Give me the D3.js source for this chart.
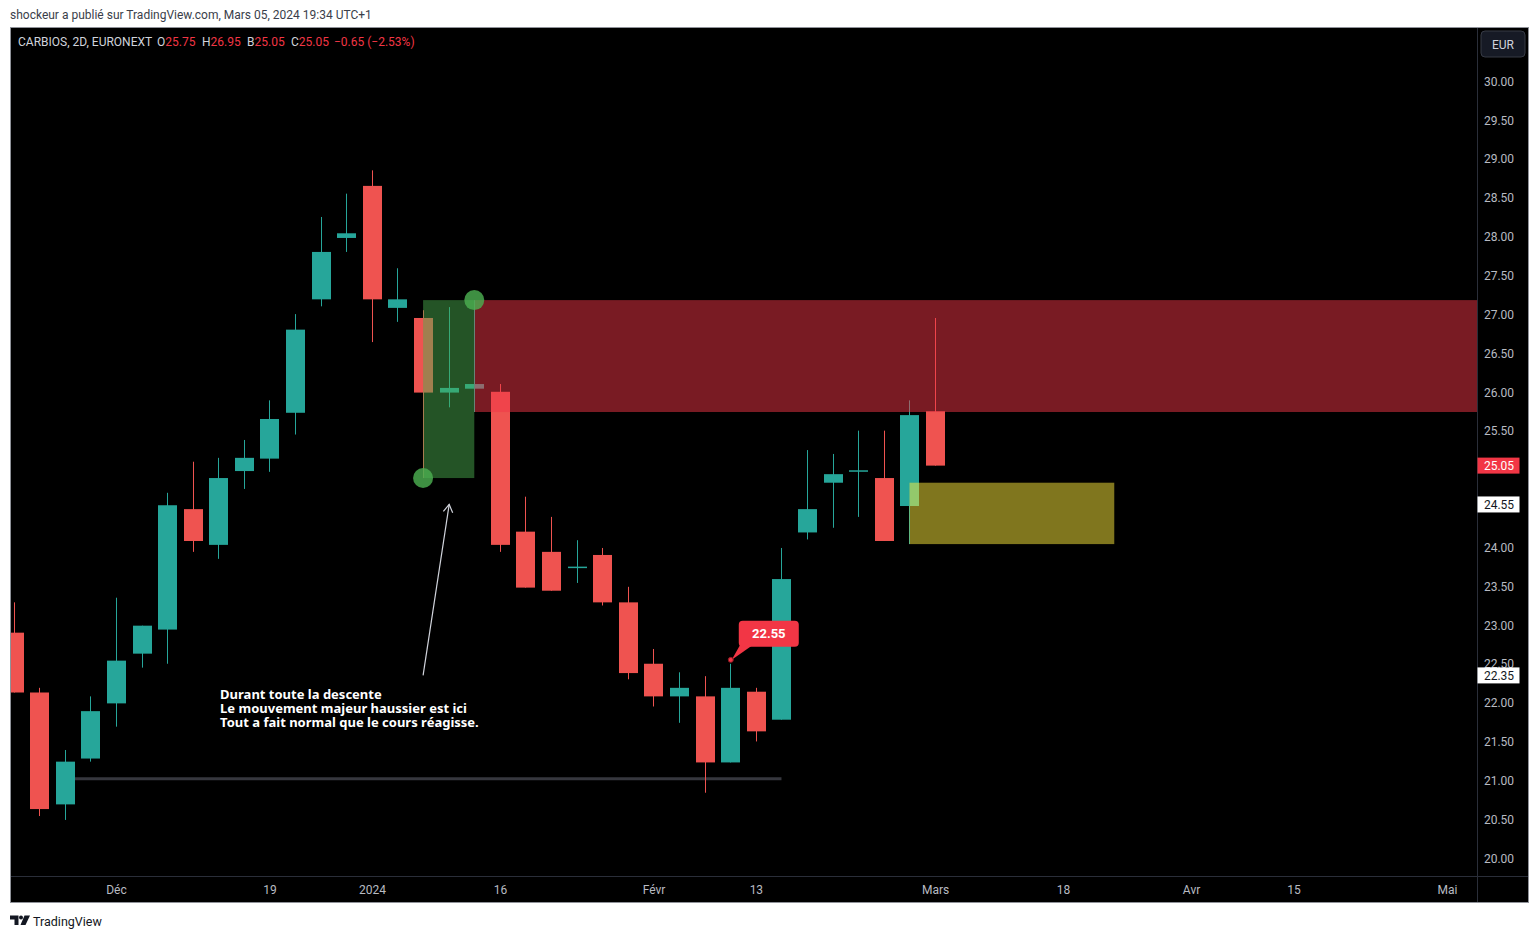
<!DOCTYPE html>
<html><head><meta charset="utf-8">
<script src="https://cdn.jsdelivr.net/npm/d3@7"></script>
<style>
html,body{margin:0;padding:0;background:#fff;}
svg{display:block;}
text{font-family:Roboto,"Noto Sans",sans-serif;}
</style></head>
<body>
<svg id="chart" width="1539" height="939"></svg>
<script>
// ---------- DATA ----------
const dates = ["2023-11-20","2023-11-22","2023-11-24","2023-11-28","2023-11-30","2023-12-04","2023-12-06","2023-12-08","2023-12-12","2023-12-14",
"2023-12-18","2023-12-20","2023-12-22","2023-12-28","2024-01-02","2024-01-04","2024-01-08","2024-01-10","2024-01-12","2024-01-16",
"2024-01-18","2024-01-22","2024-01-24","2024-01-26","2024-01-30","2024-02-01","2024-02-05","2024-02-07","2024-02-09","2024-02-13",
"2024-02-15","2024-02-19","2024-02-21","2024-02-23","2024-02-27","2024-02-29","2024-03-04"];
const opens  = [22.90,22.13,20.69,21.28,21.99,22.63,22.94,24.49,24.03,24.98,25.14,25.73,27.19,27.98,28.65,27.08,26.95,25.99,26.04,26.00,24.20,23.94,23.74,23.90,23.29,22.50,22.08,22.08,21.23,22.14,21.78,24.19,24.83,24.98,24.89,24.53,25.75];
const highs  = [23.29,22.19,21.39,22.08,23.35,22.99,24.70,25.10,25.15,25.38,25.89,27.00,28.25,28.55,28.85,27.59,27.05,27.09,27.18,26.10,24.65,24.39,24.09,23.99,23.49,22.69,22.39,22.34,22.50,22.19,23.99,25.25,25.20,25.50,25.50,25.89,26.95];
const lows   = [22.13,20.54,20.49,21.24,21.69,22.45,22.50,23.94,23.85,24.75,24.97,25.45,27.10,27.80,26.64,26.90,24.89,25.80,25.74,23.94,23.48,23.44,23.54,23.25,22.30,21.95,21.74,20.84,21.23,21.50,21.78,24.10,24.25,24.39,24.08,24.04,25.05];
const closes = [22.13,20.63,21.24,21.89,22.54,22.99,24.54,24.08,24.89,25.15,25.65,26.80,27.80,28.04,27.19,27.19,25.99,26.05,26.10,24.03,23.48,23.44,23.75,23.29,22.38,22.08,22.19,21.23,22.19,21.63,23.59,24.49,24.94,24.99,24.08,25.70,25.05];

// visible price-axis ticks (25.00 and 24.50 are hidden behind the price labels in the reference)
const priceTicks = [20,20.5,21,21.5,22,22.5,23,23.5,24,25.5,26,26.5,27,27.5,28,28.5,29,29.5,30];
const xTickBars   = [4,10,14,19,25,29,36,41,46,50,56];
const xTickLabels = ["Déc","19","2024","16","Févr","13","Mars","18","Avr","15","Mai"];

// drawings (bar index / price)
const redZoneBars = [18, 57.5];   const redZonePrices = [25.74, 27.18];
const greenBoxBars = [16, 18];    const greenBoxPrices = [24.89, 27.18];
const yellowBoxBars = [35, 43];   const yellowBoxPrices = [24.04, 24.83];
const supportBars = [2, 30];      const supportPrice = 21.02;
const arrowBars = [16, 17];       const arrowPrices = [22.35, 24.55];
const calloutBar = 28;            const calloutPrice = 22.55;
const noteBar = 8.07;             const notePrice = 22.045;
const noteLines = ["Durant toute la descente","Le mouvement majeur haussier est ici","Tout a fait normal que le cours réagisse."];
const lastPrice = 25.05;

// ---------- LAYOUT ----------
const frame = {x0:10, y0:27, x1:1529, y1:903};
const plot = {x0:10, x1:1477, y0:27, y1:876};
const svg = d3.select("#chart");

const x = d3.scaleLinear().domain([-0.137, 57.17]).range([plot.x0, plot.x1]);
const y = d3.scaleLinear().domain([20, 30]).range([858, 81]);
const step = x(1) - x(0);
const bodyW = Math.round(step * 0.74);

const GREEN = "#26a69a", RED = "#ef5350";

// attribution
svg.append("text").attr("x",10).attr("y",18.5).attr("font-size",12).attr("fill","#3a3e4a")
  .text("shockeur a publié sur TradingView.com, Mars 05, 2024 19:34 UTC+1");

// frame
svg.append("rect").attr("x",frame.x0).attr("y",frame.y0).attr("width",frame.x1-frame.x0).attr("height",frame.y1-frame.y0)
  .attr("fill","#000");

const defs = svg.append("defs");
defs.append("clipPath").attr("id","plotclip").append("rect")
  .attr("x",plot.x0).attr("y",plot.y0).attr("width",plot.x1-plot.x0).attr("height",plot.y1-plot.y0);

const g = svg.append("g").attr("clip-path","url(#plotclip)");

// support line
g.append("line").attr("x1",x(supportBars[0])).attr("x2",x(supportBars[1]))
  .attr("y1",y(supportPrice)).attr("y2",y(supportPrice))
  .attr("stroke","#36373e").attr("stroke-width",2.8);

// candles
const data = dates.map((d,i)=>({d,i,o:opens[i],h:highs[i],l:lows[i],c:closes[i]}));
const cg = g.append("g");
cg.selectAll("line.wick").data(data).join("line").attr("class","wick")
  .attr("x1",d=>Math.round(x(d.i))+0.5).attr("x2",d=>Math.round(x(d.i))+0.5)
  .attr("y1",d=>y(d.h)).attr("y2",d=>y(d.l))
  .attr("stroke",d=>d.c>=d.o?GREEN:RED).attr("stroke-width",1);
cg.selectAll("rect.body").data(data).join("rect").attr("class","body")
  .attr("x",d=>Math.round(x(d.i))+0.5-bodyW/2)
  .attr("width",bodyW)
  .attr("y",d=>y(Math.max(d.o,d.c)))
  .attr("height",d=>Math.max(1.5, Math.abs(y(d.o)-y(d.c))))
  .attr("fill",d=>d.c>=d.o?GREEN:RED);

// zones
g.append("rect").attr("x",x(redZoneBars[0])).attr("width",x(redZoneBars[1])-x(redZoneBars[0]))
  .attr("y",y(redZonePrices[1])).attr("height",y(redZonePrices[0])-y(redZonePrices[1]))
  .attr("fill","rgba(242,54,69,0.5)");
g.append("rect").attr("x",x(greenBoxBars[0])).attr("width",x(greenBoxBars[1])-x(greenBoxBars[0]))
  .attr("y",y(greenBoxPrices[1])).attr("height",y(greenBoxPrices[0])-y(greenBoxPrices[1]))
  .attr("fill","rgba(76,175,80,0.48)");
g.append("rect").attr("x",x(yellowBoxBars[0])).attr("width",x(yellowBoxBars[1])-x(yellowBoxBars[0]))
  .attr("y",y(yellowBoxPrices[1])).attr("height",y(yellowBoxPrices[0])-y(yellowBoxPrices[1]))
  .attr("fill","rgba(255,235,59,0.5)");
// anchor circles
[[greenBoxBars[0],greenBoxPrices[0]],[greenBoxBars[1],greenBoxPrices[1]]].forEach(p=>{
  g.append("circle").attr("cx",x(p[0])).attr("cy",y(p[1])).attr("r",10).attr("fill","rgba(76,175,80,0.82)");
});

// arrow
const ax0=x(arrowBars[0]), ay0=y(arrowPrices[0]), ax1=x(arrowBars[1])+0.5, ay1=y(arrowPrices[1]);
g.append("line").attr("x1",ax0).attr("y1",ay0).attr("x2",ax1).attr("y2",ay1).attr("stroke","#d1d4dc").attr("stroke-width",1.2);
{
  const ang=Math.atan2(ay1-ay0, ax1-ax0), L=9, spread=0.55;
  const p1=[ax1-L*Math.cos(ang-spread), ay1-L*Math.sin(ang-spread)];
  const p2=[ax1-L*Math.cos(ang+spread), ay1-L*Math.sin(ang+spread)];
  g.append("path").attr("d",`M${p1[0]},${p1[1]}L${ax1},${ay1}L${p2[0]},${p2[1]}`)
    .attr("fill","none").attr("stroke","#d1d4dc").attr("stroke-width",1.2);
}

// note text
const note = g.append("text").attr("x",x(noteBar)).attr("y",y(notePrice)).attr("fill","#fff")
  .attr("font-size",13).attr("font-weight","bold").style("font-family","'Noto Sans',sans-serif");
noteLines.forEach((t,i)=>note.append("tspan").attr("x",x(noteBar)).attr("dy",i?14:0).text(t));

// callout
{
  const px=x(calloutBar)+0.5, py=y(calloutPrice);
  const bx=px+8, by=py-39, bw=60, bh=26;
  g.append("path").attr("d",`M${px+10},${py-16}L${px+21},${py-14}L${px+1},${py}Z`).attr("fill","#f23645");
  g.append("rect").attr("x",bx).attr("y",by).attr("width",bw).attr("height",bh).attr("rx",4).attr("fill","#f23645");
  g.append("circle").attr("cx",px).attr("cy",py).attr("r",2.5).attr("fill","#f23645").attr("stroke","#8a1a22").attr("stroke-width",1);
  g.append("text").attr("x",bx+bw/2).attr("y",by+bh/2+4.5).attr("text-anchor","middle").attr("fill","#fff")
    .attr("font-size",13).attr("font-weight","bold").text(calloutPrice.toFixed(2));
}

// separators
svg.append("line").attr("x1",plot.x1+0.5).attr("x2",plot.x1+0.5).attr("y1",frame.y0).attr("y2",frame.y1).attr("stroke","#2a2e39");
svg.append("line").attr("x1",frame.x0).attr("x2",frame.x1).attr("y1",plot.y1+0.5).attr("y2",plot.y1+0.5).attr("stroke","#2a2e39");

// price axis
const yAxis = d3.axisRight(y).tickValues(priceTicks).tickFormat(d3.format(".2f")).tickSize(0).tickPadding(0);
const ya = svg.append("g").attr("transform",`translate(${plot.x1+22},0)`).call(yAxis);
ya.select(".domain").remove();
ya.selectAll("text").attr("fill","#b8bbc2").attr("font-size",12).attr("text-anchor","middle").attr("dy","0.35em")
  .style("font-family","Roboto,sans-serif");

// price labels
function priceLabel(v, fill, color){
  const cy = y(v);
  svg.append("rect").attr("x",plot.x1+0.5).attr("y",cy-8).attr("width",42).attr("height",16).attr("fill",fill);
  svg.append("text").attr("x",plot.x1+22).attr("y",cy+4.3).attr("text-anchor","middle").attr("font-size",12)
    .attr("fill",color).text(v.toFixed(2));
}
priceLabel(lastPrice, "#f23645", "#fff");
priceLabel(arrowPrices[1], "#fff", "#131722");
priceLabel(arrowPrices[0], "#fff", "#131722");

// EUR button
svg.append("rect").attr("x",1481).attr("y",31).attr("width",44).attr("height",26).attr("rx",4)
  .attr("fill","#161a25").attr("stroke","#363a45");
svg.append("text").attr("x",1503).attr("y",48.5).attr("text-anchor","middle").attr("font-size",12).attr("fill","#d1d4dc").text("EUR");

// time axis
const xAxis = d3.axisBottom(x).tickValues(xTickBars).tickFormat((d,i)=>xTickLabels[i]).tickSize(0).tickPadding(0);
const xa = svg.append("g").attr("transform",`translate(0,${plot.y1})`).call(xAxis);
xa.select(".domain").remove();
xa.selectAll("text").attr("fill","#b8bbc2").attr("font-size",12).attr("y",17.5).attr("dy",0)
  .style("font-family","Roboto,sans-serif");

// frame border
svg.append("rect").attr("x",frame.x0+0.5).attr("y",frame.y0+0.5).attr("width",frame.x1-frame.x0-1).attr("height",frame.y1-frame.y0-1)
  .attr("fill","none").attr("stroke","#8f9299");

// header legend
const hy = 45.5;
svg.append("text").attr("x",18).attr("y",hy).attr("font-size",12).attr("fill","#d1d4dc").text("CARBIOS, 2D, EURONEXT");
const legendParts = [["O","25.75",157],["H","26.95",202],["B","25.05",247],["C","25.05",291]];
legendParts.forEach(p=>{
  const t = svg.append("text").attr("x",p[2]).attr("y",hy).attr("font-size",12);
  t.append("tspan").attr("fill","#d1d4dc").text(p[0]);
  t.append("tspan").attr("fill","#f23645").text(p[1]);
});
svg.append("text").attr("x",334).attr("y",hy).attr("font-size",12).attr("fill","#f23645").text("−0.65 (−2.53%)");

// bottom logo
const lg = svg.append("g").attr("fill","#131722");
lg.append("path").attr("d","M10,915.5h8.5v9.5h-4v-5.5h-4.5z");
lg.append("circle").attr("cx",21).attr("cy",917.5).attr("r",2);
lg.append("path").attr("d","M24.5,915.5h5.5l-4.5,9.5h-5z");
svg.append("text").attr("x",33).attr("y",925.5).attr("font-size",12.5).attr("fill","#131722").text("TradingView");
</script>
</body></html>
